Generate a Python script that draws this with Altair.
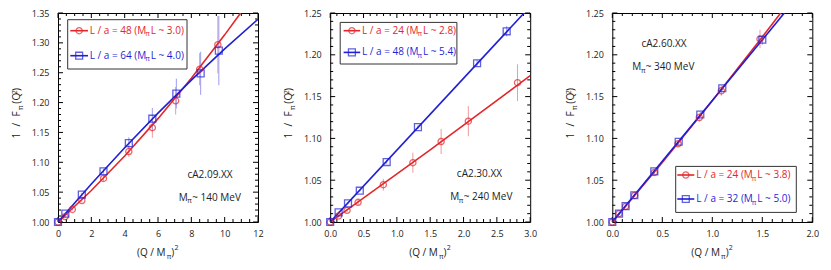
import altair as alt
import numpy as np
import pandas as pd

FONT = "Open Sans"
RED = "#e3262a"
BLUE = "#1f1fd4"
RED_ERR = "#f09a9a"
BLUE_ERR = "#9c9cee"
INK = "#222222"
W = 200
H = 209

# ---------------- data ----------------
# Panel 1 : cA2.09.XX
p1_red_x = [0.0, 0.43, 0.86, 1.43, 2.73, 4.25, 5.66, 7.06, 8.50, 9.59]
p1_red_y = [1.000, 1.009, 1.021, 1.036, 1.073, 1.118, 1.158, 1.203, 1.256, 1.297]
p1_red_e = [0.0, 0.002, 0.002, 0.003, 0.004, 0.009, 0.017, 0.023, 0.027, 0.048]
p1_blue_x = [0.0, 0.44, 1.43, 2.73, 4.25, 5.66, 7.10, 8.56, 9.65]
p1_blue_y = [1.000, 1.014, 1.046, 1.085, 1.132, 1.173, 1.215, 1.249, 1.287]
p1_blue_e = [0.0, 0.002, 0.003, 0.004, 0.010, 0.018, 0.025, 0.036, 0.058]
p1_red_fit_x = [0, 2, 4, 6, 8, 10, 11]
p1_red_fit_y = [1.0, 1.0527, 1.1104, 1.1731, 1.2408, 1.3134, 1.3516]
p1_blue_fit_x = [0, 2, 4, 6, 8, 10, 12]
p1_blue_fit_y = [1.0, 1.0636, 1.1244, 1.1824, 1.2376, 1.2900, 1.3396]

# Panel 2 : cA2.30.XX
p2_red_x = [0.0, 0.126, 0.252, 0.418, 0.797, 1.24, 1.664, 2.072, 2.81]
p2_red_y = [1.000, 1.0072, 1.0139, 1.0235, 1.0446, 1.0709, 1.0963, 1.1206, 1.1666]
p2_red_e = [0.0, 0.002, 0.002, 0.003, 0.007, 0.012, 0.015, 0.018, 0.022]
p2_blue_x = [0.0, 0.126, 0.267, 0.444, 0.847, 1.316, 2.203, 2.647]
p2_blue_y = [1.000, 1.0115, 1.0223, 1.0374, 1.0717, 1.1135, 1.1899, 1.2281]
p2_blue_e = [0.0, 0.001, 0.001, 0.001, 0.002, 0.002, 0.004, 0.006]
p2_red_fit_x = [0.0, 1.5, 3.0]
p2_red_fit_y = [1.0, 1.0862, 1.175]
p2_blue_fit_x = [0.0, 3.0]
p2_blue_fit_y = [1.0, 1.2578]

# Panel 3 : cA2.60.XX
p3_red_x = [0.0, 0.067, 0.133, 0.223, 0.42, 0.657, 0.87, 1.09, 1.477]
p3_red_y = [1.000, 1.010, 1.0187, 1.0318, 1.0593, 1.0936, 1.125, 1.157, 1.219]
p3_red_e = [0.0, 0.001, 0.001, 0.002, 0.002, 0.003, 0.005, 0.006, 0.011]
p3_blue_x = [0.0, 0.067, 0.133, 0.22, 0.42, 0.664, 0.88, 1.10, 1.50]
p3_blue_y = [1.000, 1.010, 1.019, 1.032, 1.0605, 1.096, 1.1286, 1.160, 1.218]
p3_blue_e = [0.0, 0.001, 0.001, 0.001, 0.002, 0.002, 0.003, 0.003, 0.006]
p3_red_fit_x = [0.0, 0.5, 1.0, 1.5, 1.75]
p3_red_fit_y = [1.0, 1.0713, 1.145, 1.2213, 1.2603]
p3_blue_fit_x = [0.0, 1.75]
p3_blue_fit_y = [1.0, 1.2543]

# axis ticks / labels
p1_xmaj = [0, 2, 4, 6, 8, 10, 12]
p1_ymaj = [1.00, 1.05, 1.10, 1.15, 1.20, 1.25, 1.30, 1.35]
p2_xmaj = [0.0, 0.5, 1.0, 1.5, 2.0, 2.5, 3.0]
p3_xmaj = [0.0, 0.5, 1.0, 1.5, 2.0]
p23_ymaj = [1.00, 1.05, 1.10, 1.15, 1.20, 1.25]

legend1 = [("L / a = 48 (M", "L ~ 3.0)"), ("L / a = 64 (M", "L ~ 4.0)")]
legend2 = [("L / a = 24 (M", "L ~ 2.8)"), ("L / a = 48 (M", "L ~ 5.4)")]
legend3 = [("L / a = 24 (M", "L ~ 3.8)"), ("L / a = 32 (M", "L ~ 5.0)")]
ens = ["cA2.09.XX", "cA2.30.XX", "cA2.60.XX"]
mpi = ["~ 140 MeV", "~ 240 MeV", "~ 340 MeV"]

ONE = pd.DataFrame({"a": [1]})


def minor(lo, hi, step, majors):
    vals = np.round(np.arange(lo, hi + step / 2, step), 4)
    return [float(v) for v in vals if not np.any(np.isclose(v, majors))]


def txt(s, x, y, size=10, color=INK, align="left", baseline="middle", angle=0):
    return alt.Chart(ONE).mark_text(
        text=s, font=FONT, fontSize=size, color=color, align=align,
        baseline=baseline, angle=angle
    ).encode(x=alt.value(x), y=alt.value(y))


def build(idx, red, blue, rfit, bfit, xdom, ydom, xmaj, xstep, ymaj, xfmt,
          leg, legbox, ann):
    xs = alt.Scale(domain=xdom, nice=False, zero=False)
    ys = alt.Scale(domain=ydom, nice=False, zero=False)
    axx = alt.Axis(values=xmaj, format=xfmt, ticks=False, domain=False,
                   grid=False, labelFont=FONT, labelFontSize=9, labelColor=INK,
                   labelPadding=7, labelFlush=False, labelOverlap=False, title=None)
    axy = alt.Axis(values=ymaj, format=".2f", ticks=False, domain=False,
                   grid=False, labelFont=FONT, labelFontSize=9, labelColor=INK,
                   labelPadding=9, labelFlush=False, labelOverlap=False, title=None)

    def X(f):
        return alt.X(f, scale=xs, axis=axx)

    def Y(f):
        return alt.Y(f, scale=ys, axis=axy)

    layers = []
    # inward ticks on all four sides
    xmin_ = minor(xdom[0], xdom[1], xstep, xmaj)
    ymin_ = minor(ydom[0], ydom[1], 0.01, ymaj)
    for vals, ln in ((xmaj, 5), (xmin_, 3)):
        d = pd.DataFrame({"v": vals})
        layers.append(alt.Chart(d).mark_rule(color="black", strokeWidth=1).encode(
            x=X("v:Q"), y=alt.value(H), y2=alt.value(H - ln)))
        layers.append(alt.Chart(d).mark_rule(color="black", strokeWidth=1).encode(
            x=X("v:Q"), y=alt.value(0), y2=alt.value(ln)))
    for vals, ln in ((ymaj, 5), (ymin_, 3)):
        d = pd.DataFrame({"v": vals})
        layers.append(alt.Chart(d).mark_rule(color="black", strokeWidth=1).encode(
            y=Y("v:Q"), x=alt.value(0), x2=alt.value(ln)))
        layers.append(alt.Chart(d).mark_rule(color="black", strokeWidth=1).encode(
            y=Y("v:Q"), x=alt.value(W), x2=alt.value(W - ln)))

    # error bars
    for (px, py, pe), col in ((red, RED_ERR), (blue, BLUE_ERR)):
        d = pd.DataFrame({"x": px, "lo": np.array(py) - np.array(pe),
                          "hi": np.array(py) + np.array(pe)})
        layers.append(alt.Chart(d).mark_rule(color=col, strokeWidth=1, clip=True).encode(
            x=X("x:Q"), y=Y("lo:Q"), y2="hi:Q"))
    # fit lines
    for (fx, fy), col in ((rfit, RED), (bfit, BLUE)):
        d = pd.DataFrame({"x": fx, "y": fy})
        layers.append(alt.Chart(d).mark_line(color=col, strokeWidth=1.6, clip=True).encode(
            x=X("x:Q"), y=Y("y:Q")))
    # markers
    d = pd.DataFrame({"x": red[0], "y": red[1]})
    layers.append(alt.Chart(d).mark_point(shape="circle", filled=False, color=RED,
                                          size=38, strokeWidth=1.3).encode(
        x=X("x:Q"), y=Y("y:Q")))
    d = pd.DataFrame({"x": blue[0], "y": blue[1]})
    layers.append(alt.Chart(d).mark_point(shape="square", filled=False, color=BLUE,
                                          size=48, strokeWidth=1.3).encode(
        x=X("x:Q"), y=Y("y:Q")))

    # legend box
    bx0, bx1, by0, by1, lx0, lx1, tx, ey = legbox
    layers.append(alt.Chart(ONE).mark_rect(fill="white", stroke="#333333", strokeWidth=1).encode(
        x=alt.value(bx0), x2=alt.value(bx1), y=alt.value(by0), y2=alt.value(by1)))
    for (t1, t2), col, shp, sz, yy in ((leg[0], RED, "circle", 38, ey[0]),
                                        (leg[1], BLUE, "square", 48, ey[1])):
        layers.append(alt.Chart(ONE).mark_rule(color=col, strokeWidth=1.6).encode(
            x=alt.value(lx0), x2=alt.value(lx1), y=alt.value(yy)))
        layers.append(alt.Chart(ONE).mark_point(shape=shp, filled=False, color=col, size=sz,
                                                strokeWidth=1.3).encode(
            x=alt.value((lx0 + lx1) / 2), y=alt.value(yy)))
        layers.append(txt(t1, tx, yy, color=col))
        layers.append(txt("\u03c0", tx + 55.5, yy + 3.5, size=7, color=col))
        layers.append(txt(t2, tx + 61.0, yy, color=col))

    # annotations
    (ex, eyy), (mx, my) = ann
    layers.append(txt(ens[idx], ex, eyy, align="center"))
    layers.append(txt("M", mx, my))
    layers.append(txt("\u03c0", mx + 8.6, my + 3.5, size=7))
    layers.append(txt(mpi[idx], mx + 13.5, my))
    # x title
    layers.append(txt("(Q / M", 79, H + 31))
    layers.append(txt("\u03c0", 111, H + 35, size=7, align="center"))
    layers.append(txt(")", 114.8, H + 31, align="center"))
    layers.append(txt("2", 118.5, H + 25.5, size=7, align="center"))
    # y title (rotated, glyph by glyph)
    yx = -41.2
    for s, dx, yy, sz in (("1", 0, 122.7, 10), ("/", 0, 111.7, 10), ("F", 0, 101, 10),
                          ("\u03c0", 4.3, 94.6, 7), ("(", 0, 89.4, 10), ("Q", 0, 83.7, 10),
                          ("2", -1.8, 79.2, 7), (")", 0, 76.5, 10)):
        layers.append(txt(s, yx + dx, yy, size=sz, align="center", angle=270))
    return alt.layer(*layers).properties(width=W, height=H)


c1 = build(0, (p1_red_x, p1_red_y, p1_red_e), (p1_blue_x, p1_blue_y, p1_blue_e),
           (p1_red_fit_x, p1_red_fit_y), (p1_blue_fit_x, p1_blue_fit_y),
           [0, 12], [1.0, 1.35], p1_xmaj, 0.5, p1_ymaj, "d", legend1,
           (9.7, 129, 6.7, 56, 12.3, 30, 31.7, (17.7, 42.7)),
           ((152, 161.7), (120.7, 184.7)))
c2 = build(1, (p2_red_x, p2_red_y, p2_red_e), (p2_blue_x, p2_blue_y, p2_blue_e),
           (p2_red_fit_x, p2_red_fit_y), (p2_blue_fit_x, p2_blue_fit_y),
           [0, 3], [1.0, 1.25], p2_xmaj, 0.1, p23_ymaj, ".1f", legend2,
           (10, 126.7, 9.4, 51, 13.4, 30, 31.7, (17.7, 39.4)),
           ((149.2, 161), (120, 184.4)))
c3 = build(2, (p3_red_x, p3_red_y, p3_red_e), (p3_blue_x, p3_blue_y, p3_blue_e),
           (p3_red_fit_x, p3_red_fit_y), (p3_blue_fit_x, p3_blue_fit_y),
           [0, 2], [1.0, 1.25], p3_xmaj, 0.1, p23_ymaj, ".1f", legend3,
           (63.4, 184, 153.4, 199.4, 65, 82, 84, (162, 186)),
           ((51.7, 31), (20, 54.4)))

chart = alt.hconcat(alt.hconcat(c1, c2, spacing=18.2), c3, spacing=26.3).properties(
    padding={"left": 2, "top": 0, "right": 0, "bottom": 0}, background="white"
).configure_view(stroke="black", strokeWidth=1)

chart.save("out.html", embed_options={"renderer": "svg", "actions": False})
